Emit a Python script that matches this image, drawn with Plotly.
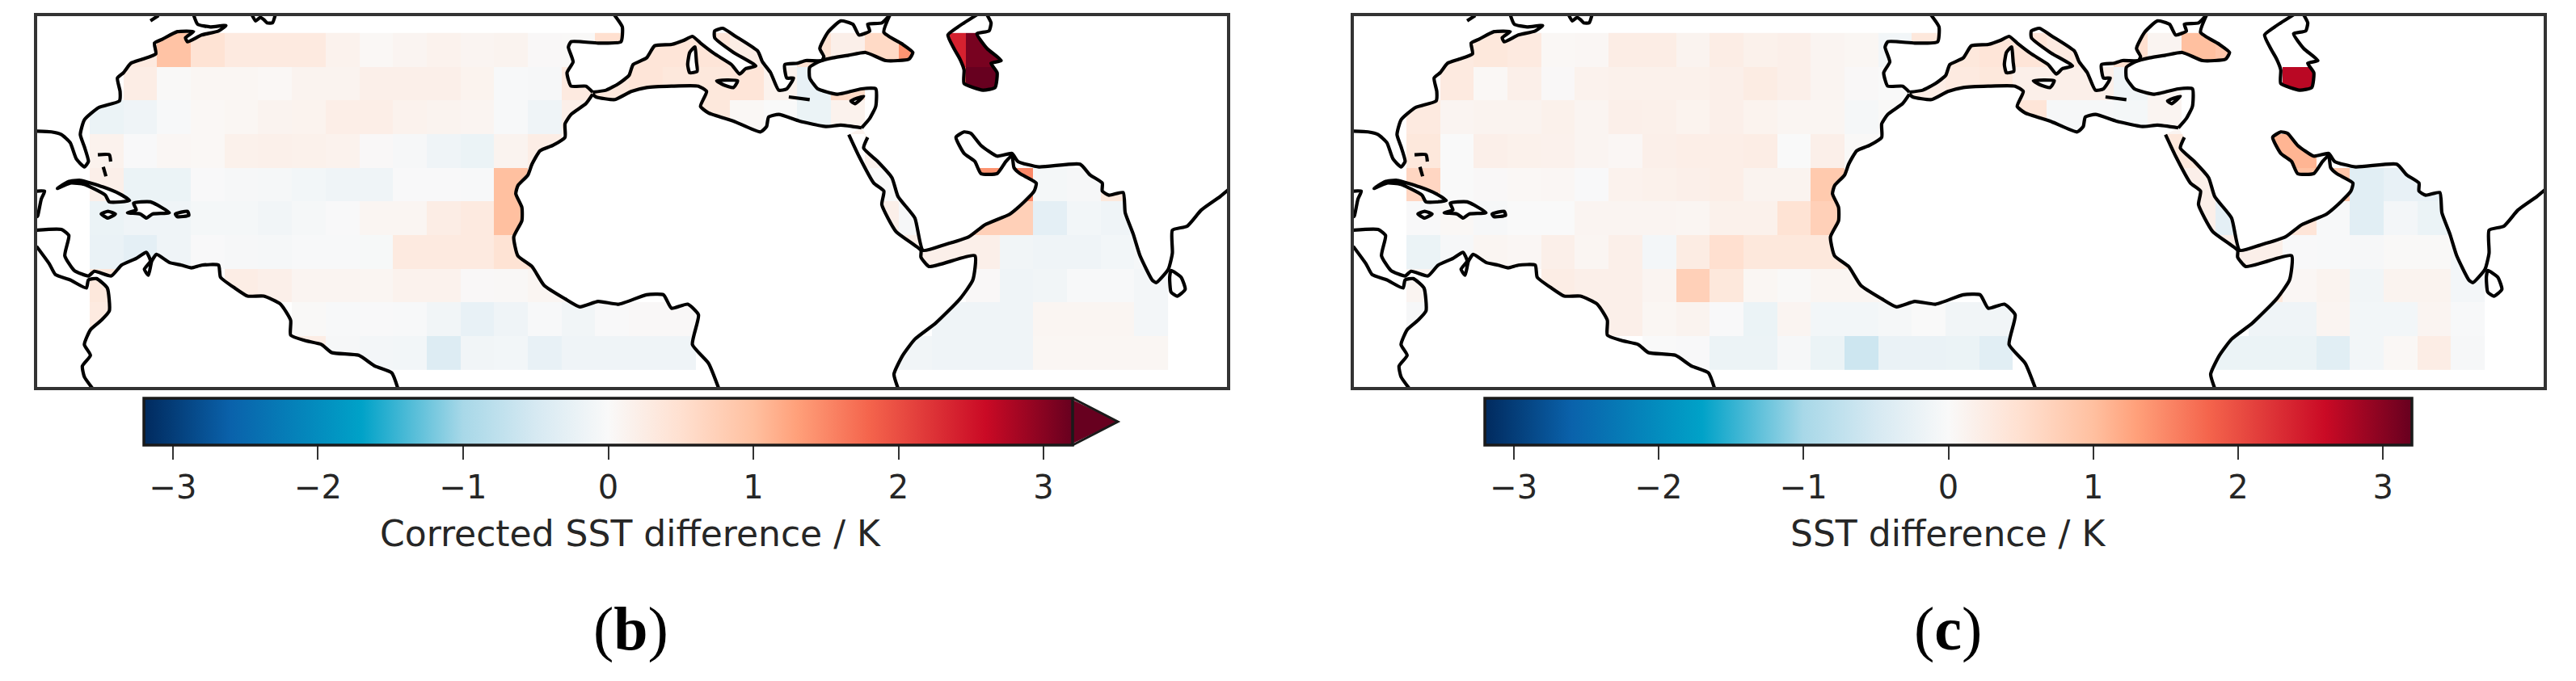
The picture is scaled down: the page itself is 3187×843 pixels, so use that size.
import plotly.graph_objects as go

W, H = 3187, 843
N = None

# 5 degree grid of SST differences
LONS = [-77.5 + 5 * i for i in range(32)]
LATS = [42.5, 37.5, 32.5, 27.5, 22.5, 17.5, 12.5, 7.5, 2.5, -2.5]

CORRECTED_DIFF = [
    [N, .3, .95, .45, .3, .3, .3, .15, .05, .1, .15, .1, .12, .03, .02, .5, .4, .4, .4, .25, N, .45, .2, .6, 1.4, 2.4, 3.1, N, N, N, N, N],
    [N, .25, .02, .07, .07, .05, .12, .12, .2, .2, .2, .13, -.03, -.05, .3, .35, .4, .35, .35, .4, .15, -.25, .6, N, N, 1.9, 3.2, N, N, N, N, N],
    [-.2, -.15, -.03, .05, .07, .12, .13, .22, .22, .15, .12, .1, -.03, -.15, .2, N, N, N, .35, .05, 0, -.2, .15, N, N, N, N, N, N, N, N, N],
    [.15, -.02, .06, .05, .17, .18, .17, .15, .03, -.05, -.15, -.2, .12, .25, N, N, N, N, N, N, N, N, N, .15, N, N, N, N, N, N, N, N],
    [.2, -.2, -.2, -.02, -.05, -.06, -.1, -.15, -.15, -.02, -.02, -.03, 1.0, N, N, N, N, N, N, N, N, N, N, 0, -.05, N, 1.4, 1.5, -.07, -.05, .35, N],
    [-.2, -.15, -.15, -.07, -.07, -.12, -.06, -.02, .08, .08, .25, .3, 1.0, N, N, N, N, N, N, N, N, N, N, .2, -.05, N, .75, .75, -.3, -.1, -.15, N],
    [-.22, -.3, -.15, -.02, -.05, -.06, -.03, -.03, -.04, .3, .3, .3, .45, .45, N, N, N, N, N, N, N, N, N, N, .2, .2, .2, -.12, -.15, -.15, -.1, -.06],
    [.35, N, N, N, .25, .2, .1, .1, .08, .15, .15, .03, .04, .08, .1, N, N, N, N, N, N, N, N, N, N, N, .03, -.15, -.12, -.03, -.03, -.08],
    [.3, N, N, N, N, N, .02, -.03, -.02, -.03, -.12, -.25, -.15, -.03, -.12, -.02, .03, .03, N, N, N, N, N, N, N, -.15, -.15, -.15, .08, .08, .08, -.08],
    [N, N, N, N, N, N, .25, -.05, -.08, -.1, -.4, -.12, -.1, -.25, -.15, -.15, -.15, -.15, N, N, N, N, N, N, -.12, -.15, -.15, -.15, .07, .07, .07, .07],
]

SST_DIFF = [
    [N, .3, .35, .3, .05, .06, .25, .25, .12, .25, .17, .2, .1, .07, -.1, .35, .35, .4, .4, .3, N, .5, .1, 1.0, .9, N, N, N, N, N, N, N],
    [N, .3, .05, .2, .03, .15, .17, .17, .17, .2, .27, .2, .1, .03, 0, .25, .3, .35, .2, .2, .2, -.15, .1, N, N, N, 2.7, N, N, N, N, N],
    [.3, .1, .12, .12, .17, .1, .2, .18, .13, .2, .13, .08, .08, -.06, .02, N, N, N, .4, -.05, -.05, -.07, .1, N, N, N, N, N, N, N, N, N],
    [.35, 0, .2, .17, .16, .1, .06, .2, .22, .22, .25, 0, .2, .02, N, N, N, N, N, N, N, N, .35, .35, N, 1.1, 1.1, N, N, N, N, N],
    [.65, 0, .03, .05, .06, -.02, .15, .17, .2, .22, .12, .12, .85, N, N, N, N, N, N, N, N, N, N, .2, N, 1.0, 1.0, .9, -.35, -.25, -.25, N],
    [-.02, .05, -.05, 0, 0, .1, .1, .1, .08, .17, .17, .45, .75, N, N, N, N, N, N, N, N, N, N, .2, -.3, N, .4, -.03, -.35, -.08, -.2, N],
    [-.2, -.05, .08, .06, .2, .08, .2, -.08, .27, .5, .35, .35, .35, .35, N, N, N, N, N, N, N, N, N, N, .2, .2, -.02, -.03, -.05, .02, .02, -.1],
    [.1, N, N, N, .25, .2, .2, .1, .75, .35, .07, .02, .08, .08, .1, N, N, N, N, N, N, N, N, N, N, .35, .06, .12, -.12, .12, .12, -.08],
    [-.05, N, N, N, N, .2, .2, .07, .12, -.02, -.2, .1, -.1, -.1, -.06, 0, -.12, -.12, N, N, N, N, N, N, N, -.15, -.15, .1, -.1, -.1, .1, -.03],
    [N, N, N, N, N, N, N, 0, -.02, -.18, -.18, -.05, -.2, -.6, -.22, -.22, -.2, -.35, N, N, N, N, N, N, -.2, -.2, -.2, -.35, -.1, .05, .25, -.05],
]

TICKS = [-3, -2, -1, 0, 1, 2, 3]
LON_RANGE = [-87.8, 88.7]
LAT_RANGE = [-7.6, 47.5]
VMIN, VMAX = -3.2, 3.2

CMAP_STOPS = [
    (-3.2, "#012a5e"), (-2.6, "#0a62ab"), (-1.7, "#00a2c8"), (-1.0, "#a8d8e8"), (-0.5, "#d6e9f2"),
    (0.0, "#f9f9f9"), (0.5, "#ffe0d0"), (1.0, "#ffc0a0"), (1.3, "#ffa07a"), (1.8, "#f4644c"),
    (2.6, "#ca0a25"), (3.2, "#67001f"),
]

# coastlines, lon/lat
NORTH_AMERICA = [(-87.9, 30.4), (-85.7, 30.3), (-84.2, 29.9), (-82.9, 28.7), (-82.0, 26.3), (-80.8, 25.1), (-80.2, 25.9),
                 (-80.8, 28.1), (-81.4, 29.9), (-80.8, 32.1), (-78.7, 33.9), (-75.6, 34.9), (-75.5, 36.3), (-75.9, 38.3),
                 (-75.0, 39.1), (-73.9, 40.5), (-72.2, 41.1), (-70.2, 41.9), (-70.4, 43.5), (-69.2, 44.1), (-67.0, 45.2),
                 (-64.6, 45.2), (-65.8, 44.3), (-65.5, 43.7), (-63.4, 44.7), (-60.9, 45.3), (-59.8, 46.1), (-62.1, 45.9),
                 (-64.0, 46.3), (-64.6, 47.7)]
YUCATAN = [(-87.9, 21.5), (-86.7, 21.5), (-87.2, 20.3), (-87.7, 17.9), (-87.9, 17.6)]
LATIN_CARIBBEAN = [(-87.9, 15.7), (-84.2, 15.8), (-83.1, 14.9), (-83.7, 11.9), (-82.3, 9.7), (-80.2, 8.9), (-79.3, 9.6),
                   (-76.8, 8.9), (-75.3, 10.5), (-73.1, 11.5), (-71.6, 12.4), (-71.0, 11.1), (-71.9, 9.9), (-71.3, 9.0),
                   (-70.8, 11.1), (-70.1, 12.1), (-68.2, 10.9), (-66.4, 10.5), (-64.9, 10.1), (-63.4, 10.5), (-60.9, 10.5),
                   (-60.6, 8.7), (-58.5, 7.1), (-56.6, 5.9), (-54.2, 5.9), (-51.7, 4.7), (-50.2, 2.3), (-50.2, 0.1),
                   (-48.1, -0.7), (-45.6, -1.3), (-44.1, -2.5), (-40.1, -2.9), (-37.7, -4.5), (-35.2, -5.5), (-34.3, -7.8)]
LATIN_PACIFIC = [(-87.9, 13.3), (-86.0, 10.7), (-85.1, 9.1), (-82.9, 8.3), (-80.5, 7.1), (-80.2, 8.3), (-79.0, 8.5),
                 (-77.4, 7.1), (-77.1, 3.7), (-78.3, 2.3), (-79.9, 0.9), (-80.8, -1.3), (-79.9, -2.9), (-81.1, -4.5),
                 (-80.8, -6.1), (-79.6, -7.8)]
AFRICA_WEST = [(-5.4, 35.9), (-6.4, 34.5), (-8.6, 32.9), (-9.5, 31.5), (-9.5, 29.5), (-11.3, 28.3), (-13.2, 27.5),
               (-14.4, 25.5), (-15.0, 23.9), (-16.5, 22.3), (-16.8, 21.1), (-15.9, 19.1), (-15.9, 17.1), (-17.1, 14.7),
               (-16.5, 11.9), (-14.4, 10.3), (-12.6, 7.5), (-9.5, 5.5), (-7.3, 4.3), (-4.6, 5.1), (-1.5, 4.7), (2.6, 6.1),
               (5.1, 6.1), (6.3, 4.1), (8.7, 4.7), (10.3, 3.1), (9.4, -1.3), (11.8, -4.1), (13.3, -7.8)]
AFRICA_EAST = [(32.6, 29.9), (34.1, 26.7), (36.3, 22.7), (37.8, 21.5), (37.5, 19.5), (39.6, 15.5), (43.3, 12.7), (43.3, 11.7),
               (44.5, 10.3), (51.3, 11.9), (51.0, 8.3), (49.1, 5.5), (45.5, 1.9), (42.4, -0.5), (40.6, -2.9), (39.3, -5.7),
               (39.9, -7.8)]
AFRICA_MED = [(-5.4, 35.9), (-4.9, 35.5), (-2.1, 35.1), (0.3, 36.3), (2.6, 36.9), (6.3, 37.1), (10.3, 37.1), (11.5, 36.3),
              (10.6, 34.1), (11.8, 33.1), (15.5, 31.9), (19.5, 30.3), (20.4, 31.1), (20.7, 32.5), (22.2, 32.9), (25.3, 31.9),
              (29.2, 31.1), (31.4, 31.3), (34.5, 30.9)]
IBERIA_ATLANTIC = [(-2.2, 47.7), (-1.0, 45.9), (-1.2, 43.7), (-4.6, 43.5), (-8.6, 43.7), (-9.0, 42.9), (-8.3, 40.7),
                   (-9.2, 39.1), (-8.6, 37.1), (-6.4, 37.1), (-5.4, 36.2)]
EUROPE_SOUTH = [(-5.4, 36.2), (-3.4, 36.5), (-1.5, 37.5), (0.0, 38.7), (0.6, 40.3), (2.6, 41.3), (3.8, 43.1), (6.3, 43.3),
                (8.1, 43.9), (9.4, 44.5), (10.6, 43.5), (12.7, 41.9), (15.2, 40.3), (16.4, 38.9), (17.3, 39.7), (18.8, 40.1),
                (15.5, 42.1), (12.7, 44.3), (12.7, 45.3), (13.9, 45.7), (15.8, 44.5), (19.1, 42.3), (19.8, 40.7), (21.0, 39.1),
                (22.2, 36.5), (23.4, 36.7), (24.4, 38.3), (23.4, 38.3), (23.1, 40.3), (25.0, 40.5), (26.2, 40.9), (28.6, 40.9),
                (28.9, 41.5), (28.3, 42.7), (29.5, 45.1), (31.4, 46.8), (33.2, 46.3), (34.1, 44.7), (35.7, 45.3), (35.4, 46.3),
                (37.5, 46.5), (38.7, 47.7)]
ASIA_NORTH = [(34.5, 30.9), (35.7, 32.3), (36.6, 34.1), (36.6, 36.7), (34.5, 36.7), (32.0, 36.1), (30.8, 35.9), (28.0, 36.7),
              (26.8, 38.3), (26.8, 39.9), (28.3, 40.8), (30.2, 41.3), (32.6, 41.7), (35.1, 42.1), (38.1, 40.9), (41.5, 41.1),
              (42.1, 42.1), (40.6, 43.3), (37.8, 45.1), (38.7, 47.7)]
CASPIAN = [(51.6, 47.7), (49.1, 46.1), (47.3, 44.7), (48.2, 42.7), (49.1, 41.1), (49.7, 39.5), (49.7, 37.5), (52.5, 36.5),
           (54.3, 36.9), (54.6, 39.1), (53.7, 40.5), (55.2, 40.9), (53.1, 42.7), (51.6, 44.9), (53.4, 45.3), (53.7, 46.5),
           (53.1, 47.7)]
ASIA_SOUTH = [(88.9, 21.7), (87.7, 20.7), (84.9, 18.7), (82.8, 16.3), (80.6, 15.7), (80.6, 12.3), (80.0, 9.9), (78.2, 7.9),
              (77.6, 8.3), (75.8, 11.9), (74.8, 15.1), (73.6, 18.3), (73.3, 21.3), (71.2, 20.9), (70.2, 21.5), (70.2, 22.7),
              (68.4, 23.9), (66.9, 25.5), (60.8, 25.1), (57.7, 25.9), (56.8, 27.1), (54.6, 26.7), (52.2, 28.3), (50.7, 30.1),
              (49.7, 30.3), (48.5, 29.5), (49.7, 27.1), (51.3, 25.9), (52.2, 24.1), (54.6, 24.1), (55.9, 25.9), (56.8, 26.8),
              (57.1, 25.0), (58.0, 24.1), (60.4, 22.7), (60.1, 21.5), (58.6, 19.9), (56.5, 18.1), (52.8, 16.5), (50.4, 14.7),
              (46.7, 13.5), (43.6, 12.7), (42.4, 17.5), (39.9, 20.7), (39.0, 23.5), (36.9, 25.9), (34.8, 27.9), (35.4, 29.5)]
ISLANDS = [
    [(-84.8, 21.9), (-83.2, 22.9), (-81.4, 23.1), (-78.0, 22.1), (-75.6, 21.1), (-74.1, 20.1), (-77.1, 19.9), (-77.7, 20.9), (-80.8, 22.5), (-82.9, 22.7), (-84.8, 21.9)],
    [(-78.3, 18.1), (-77.3, 18.5), (-76.2, 18.1), (-77.3, 17.5), (-78.3, 18.1)],
    [(-74.4, 18.3), (-73.1, 18.7), (-73.5, 19.7), (-71.0, 19.9), (-68.2, 18.3), (-70.7, 18.1), (-71.6, 17.5), (-72.5, 18.1), (-74.4, 18.3)],
    [(-67.3, 18.1), (-65.5, 18.5), (-65.3, 17.9), (-67.0, 17.7), (-67.3, 18.1)],
    [(9.7, 42.9), (9.0, 42.1), (8.7, 40.3), (9.0, 39.1), (10.1, 39.3), (10.0, 40.7), (9.8, 42.9), (9.7, 42.9)],
    [(13.0, 37.9), (16.1, 37.9), (15.5, 36.9), (14.0, 37.3), (13.0, 37.9)],
    [(32.9, 34.9), (34.8, 35.6), (33.5, 34.5), (32.9, 34.9)],
    [(80.4, 9.7), (81.9, 8.7), (82.5, 6.9), (81.3, 5.9), (80.4, 6.5), (80.2, 8.7), (80.4, 9.7)],
]
SMALL_COASTS = [
    [(-78.8, 26.9), (-77.1, 26.9), (-76.9, 25.9)],
    [(-78.0, 25.1), (-77.6, 23.7)],
    [(-71.0, 46.8), (-69.8, 47.6)],
    [(-55.9, 47.6), (-55.4, 46.8), (-54.7, 47.3), (-54.2, 47.0), (-53.7, 46.5), (-52.9, 46.5), (-52.5, 47.6)],
    [(23.7, 35.5), (26.8, 35.1)],
]


def px_x(x):
    return x / W


def px_y(y):
    return 1 - y / H


def seq(*parts):
    pts = []
    for p in parts:
        pts += p
    return pts


LAND_FILLS = [
    seq([(-88, 47.7)], NORTH_AMERICA),
    seq(YUCATAN),
    seq(LATIN_CARIBBEAN, LATIN_PACIFIC[::-1]),
    seq(AFRICA_WEST, AFRICA_EAST[::-1], AFRICA_MED[::-1]),
    seq(IBERIA_ATLANTIC, EUROPE_SOUTH),
    seq(ASIA_NORTH, CASPIAN, [(88.9, 47.7)], ASIA_SOUTH),
] + ISLANDS

COAST_LINES = [NORTH_AMERICA, YUCATAN, LATIN_CARIBBEAN, LATIN_PACIFIC, AFRICA_WEST, AFRICA_EAST, AFRICA_MED,
               IBERIA_ATLANTIC, EUROPE_SOUTH, ASIA_NORTH, CASPIAN, ASIA_SOUTH] + ISLANDS + SMALL_COASTS

colorscale = [[(v - VMIN) / (VMAX - VMIN), c] for v, c in CMAP_STOPS]
fig = go.Figure()

# panel geometry in page pixels
panels = [
    dict(ax="", z=CORRECTED_DIFF, cbar=(178, 1327), label="Corrected SST difference / K", label_x=780, tag="(<b>b</b>)"),
    dict(ax="2", z=SST_DIFF, cbar=(1837, 2984), label="SST difference / K", label_x=2410, tag="(<b>c</b>)"),
]
CB_TOP, CB_BOTTOM = 493, 551

annotations = []
for p in panels:
    xname, yname = "x" + p["ax"], "y" + p["ax"]
    fig.add_trace(go.Heatmap(
        x=LONS, y=LATS, z=p["z"], xaxis=xname, yaxis=yname, colorscale=colorscale, zmin=VMIN, zmax=VMAX,
        hoverongaps=False,
        colorbar=dict(
            orientation="h", lenmode="pixels", len=p["cbar"][1] - p["cbar"][0], thicknessmode="pixels",
            thickness=CB_BOTTOM - CB_TOP, x=px_x(p["cbar"][0]), xanchor="left", y=px_y(CB_TOP), yanchor="top",
            xpad=0, ypad=0, outlinecolor="#1a1a1a", outlinewidth=3.5, tickvals=TICKS, ticks="outside", ticklen=17,
            tickwidth=2, tickcolor="#333333", tickfont=dict(family="DejaVu Sans", size=40, color="#262626"),
        ),
    ))
    for poly in LAND_FILLS:
        fig.add_trace(go.Scatter(
            x=[q[0] for q in poly], y=[q[1] for q in poly], xaxis=xname, yaxis=yname, mode="none",
            fill="toself", fillcolor="white", hoverinfo="skip", showlegend=False,
        ))
    for line in COAST_LINES:
        fig.add_trace(go.Scatter(
            x=[q[0] for q in line], y=[q[1] for q in line], xaxis=xname, yaxis=yname, mode="lines",
            line=dict(color="black", width=4.2, shape="spline", smoothing=0.5), hoverinfo="skip", showlegend=False,
        ))
    annotations.append(dict(text=p["label"], x=px_x(p["label_x"]), y=px_y(660), xref="paper", yref="paper",
                            xanchor="center", yanchor="middle", showarrow=False,
                            font=dict(family="DejaVu Sans", size=44, color="#262626")))
    annotations.append(dict(text=p["tag"], x=px_x(p["label_x"]), y=px_y(778), xref="paper", yref="paper",
                            xanchor="center", yanchor="middle", showarrow=False,
                            font=dict(family="Liberation Serif", size=76, color="black")))

axis_style = dict(showgrid=False, zeroline=False, showticklabels=False, ticks="", showline=True, mirror=True,
                  linecolor="#333333", linewidth=3.5)
fig.update_layout(
    width=W, height=H, margin=dict(l=0, r=0, t=0, b=0), paper_bgcolor="white", plot_bgcolor="white", showlegend=False,
    xaxis=dict(domain=[px_x(46), px_x(1518)], range=LON_RANGE, **axis_style),
    yaxis=dict(domain=[px_y(479), px_y(20)], range=LAT_RANGE, **axis_style),
    xaxis2=dict(domain=[px_x(1675), px_x(3147)], range=LON_RANGE, anchor="y2", **axis_style),
    yaxis2=dict(domain=[px_y(479), px_y(20)], range=LAT_RANGE, anchor="x2", **axis_style),
    annotations=annotations,
    # extend arrow on the left colorbar, filled first so its left edge hides the outline
    shapes=[
        dict(type="path", xref="paper", yref="paper", layer="above",
             path=f"M {px_x(1322)} {px_y(CB_TOP + 2)} L {px_x(1327)} {px_y(CB_TOP + 2)} L {px_x(1383)} {px_y(522)} "
                  f"L {px_x(1327)} {px_y(CB_BOTTOM - 2)} L {px_x(1322)} {px_y(CB_BOTTOM - 2)} Z",
             fillcolor="#67001f", line=dict(width=0)),
        dict(type="path", xref="paper", yref="paper", layer="above",
             path=f"M {px_x(1327)} {px_y(CB_TOP)} L {px_x(1383)} {px_y(522)} L {px_x(1327)} {px_y(CB_BOTTOM)}",
             line=dict(color="#1a1a1a", width=3)),
    ],
)

fig.write_html("out.html", config={"displayModeBar": False}, post_script="document.body.style.margin = '0';")
